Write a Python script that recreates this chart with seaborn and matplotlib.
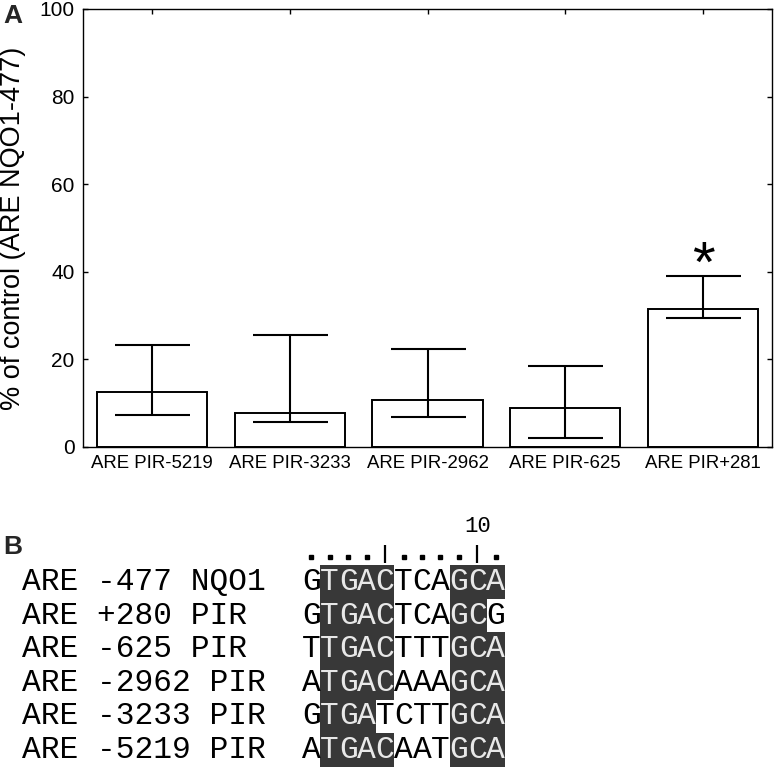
import numpy as np
import pandas as pd
import matplotlib
matplotlib.use('Agg')
import matplotlib.pyplot as plt
import matplotlib.transforms as mtransforms
from matplotlib.colors import ListedColormap
import seaborn as sns

# Panel A data: % of control (ARE NQO1-477)
categories = ['ARE PIR-5219', 'ARE PIR-3233', 'ARE PIR-2962', 'ARE PIR-625', 'ARE PIR+281']
means = [12.6, 7.7, 10.7, 9.0, 31.4]
err_top = [23.4, 25.5, 22.4, 18.5, 39.0]
err_bottom = [7.2, 5.6, 6.8, 2.1, 29.4]
significant = [False, False, False, False, True]

# Panel B data: ARE alignment
seq_labels = ['ARE -477 NQO1', 'ARE +280 PIR', 'ARE -625 PIR',
              'ARE -2962 PIR', 'ARE -3233 PIR', 'ARE -5219 PIR']
sequences = ['GTGACTCAGCA', 'GTGACTCAGCG', 'TTGACTTTGCA',
             'ATGACAAAGCA', 'GTGATCTTGCA', 'ATGACAATGCA']
shading = ['01111000111', '01111000110', '01111000111',
           '01111000111', '01110000111', '01111000111']
ruler = '....|....|.'

sns.set_theme(style='white')
plt.rcParams['font.family'] = ['Liberation Sans', 'DejaVu Sans']

W, H = 774, 767
fig = plt.figure(figsize=(W / 100, H / 100), dpi=100)

# --- Panel A ---
ax = fig.add_axes([83 / W, (H - 447) / H, (772 - 83) / W, (447 - 9) / H])
df = pd.DataFrame({'construct': categories, 'pct': means})
sns.barplot(data=df, x='construct', y='pct', color='white', edgecolor='black',
            linewidth=1.4, width=0.8, errorbar=None, ax=ax, saturation=1)
for p in ax.patches:
    p.set_facecolor('white')
x = np.arange(len(categories))
lo = np.array(means) - np.array(err_bottom)
hi = np.array(err_top) - np.array(means)
ax.errorbar(x, means, yerr=[lo, hi], fmt='none', ecolor='black', elinewidth=1.5,
            capsize=27, capthick=1.5)
for i, s in enumerate(significant):
    if s:
        ax.annotate('*', (i, err_top[i]), xytext=(0, -13), textcoords='offset points',
                    ha='center', va='bottom', fontsize=42, color='black')
ax.set_ylim(0, 100)
ax.set_xlim(-0.5, len(categories) - 0.5)
ax.set_yticks([0, 20, 40, 60, 80, 100])
ax.set_xlabel('')
ax.set_ylabel('% of control (ARE NQO1-477)', fontsize=19.5, color='black')
ax.yaxis.set_label_coords(-0.083, 0.5)
ax.tick_params(axis='both', direction='in', length=3.5, width=1, color='black',
               top=True, right=True, bottom=True, left=True, labelcolor='black')
ax.tick_params(axis='x', labelsize=13.4, pad=6)
ax.tick_params(axis='y', labelsize=15, pad=6)
for sp in ax.spines.values():
    sp.set_visible(True)
    sp.set_color('black')
    sp.set_linewidth(1.0)
fig.text(3 / W, 1 - 16 / H, 'A', fontsize=19, fontweight='bold', va='center', ha='left')

# --- Panel B ---
axb = fig.add_axes([302 / W, 0, (505 - 302) / W, (767 - 565) / H])
mask = np.array([[int(c) for c in row] for row in shading])
letters = np.array([list(s) for s in sequences])
sns.heatmap(mask, ax=axb, cmap=ListedColormap(['white', '#383838']), vmin=0, vmax=1,
            cbar=False, annot=letters, fmt='', linewidths=0,
            annot_kws={'family': 'Liberation Mono', 'size': 22.5})
for t in axb.texts:
    if t.get_color() in ('w', 'white', '#ffffff'):
        t.set_color('#e8e8e8')
    else:
        t.set_color('black')
axb.set_xticks([])
axb.set_yticks([])
axb.set_xlabel('')
axb.set_ylabel('')

trans = mtransforms.blended_transform_factory(fig.transFigure, axb.transData)
for i, lab in enumerate(seq_labels):
    axb.text(22 / W, i + 0.5, lab, transform=trans, family='Liberation Mono',
             fontsize=22.5, ha='left', va='center', color='black', clip_on=False)

for j, ch in enumerate(ruler):
    if ch == '.':
        axb.plot(j + 0.5, -0.25, marker='s', markersize=2.4, color='black', clip_on=False)
    else:
        axb.vlines(j + 0.5, -0.6, -0.05, color='black', linewidth=1.6, clip_on=False)
axb.text(9.5, -1.13, '10', family='Liberation Mono', fontsize=16, ha='center',
         va='center', color='black', clip_on=False)

fig.text(3 / W, 1 - 547 / H, 'B', fontsize=19, fontweight='bold', va='center', ha='left')

fig.savefig('out.png', dpi=100, facecolor='white')
